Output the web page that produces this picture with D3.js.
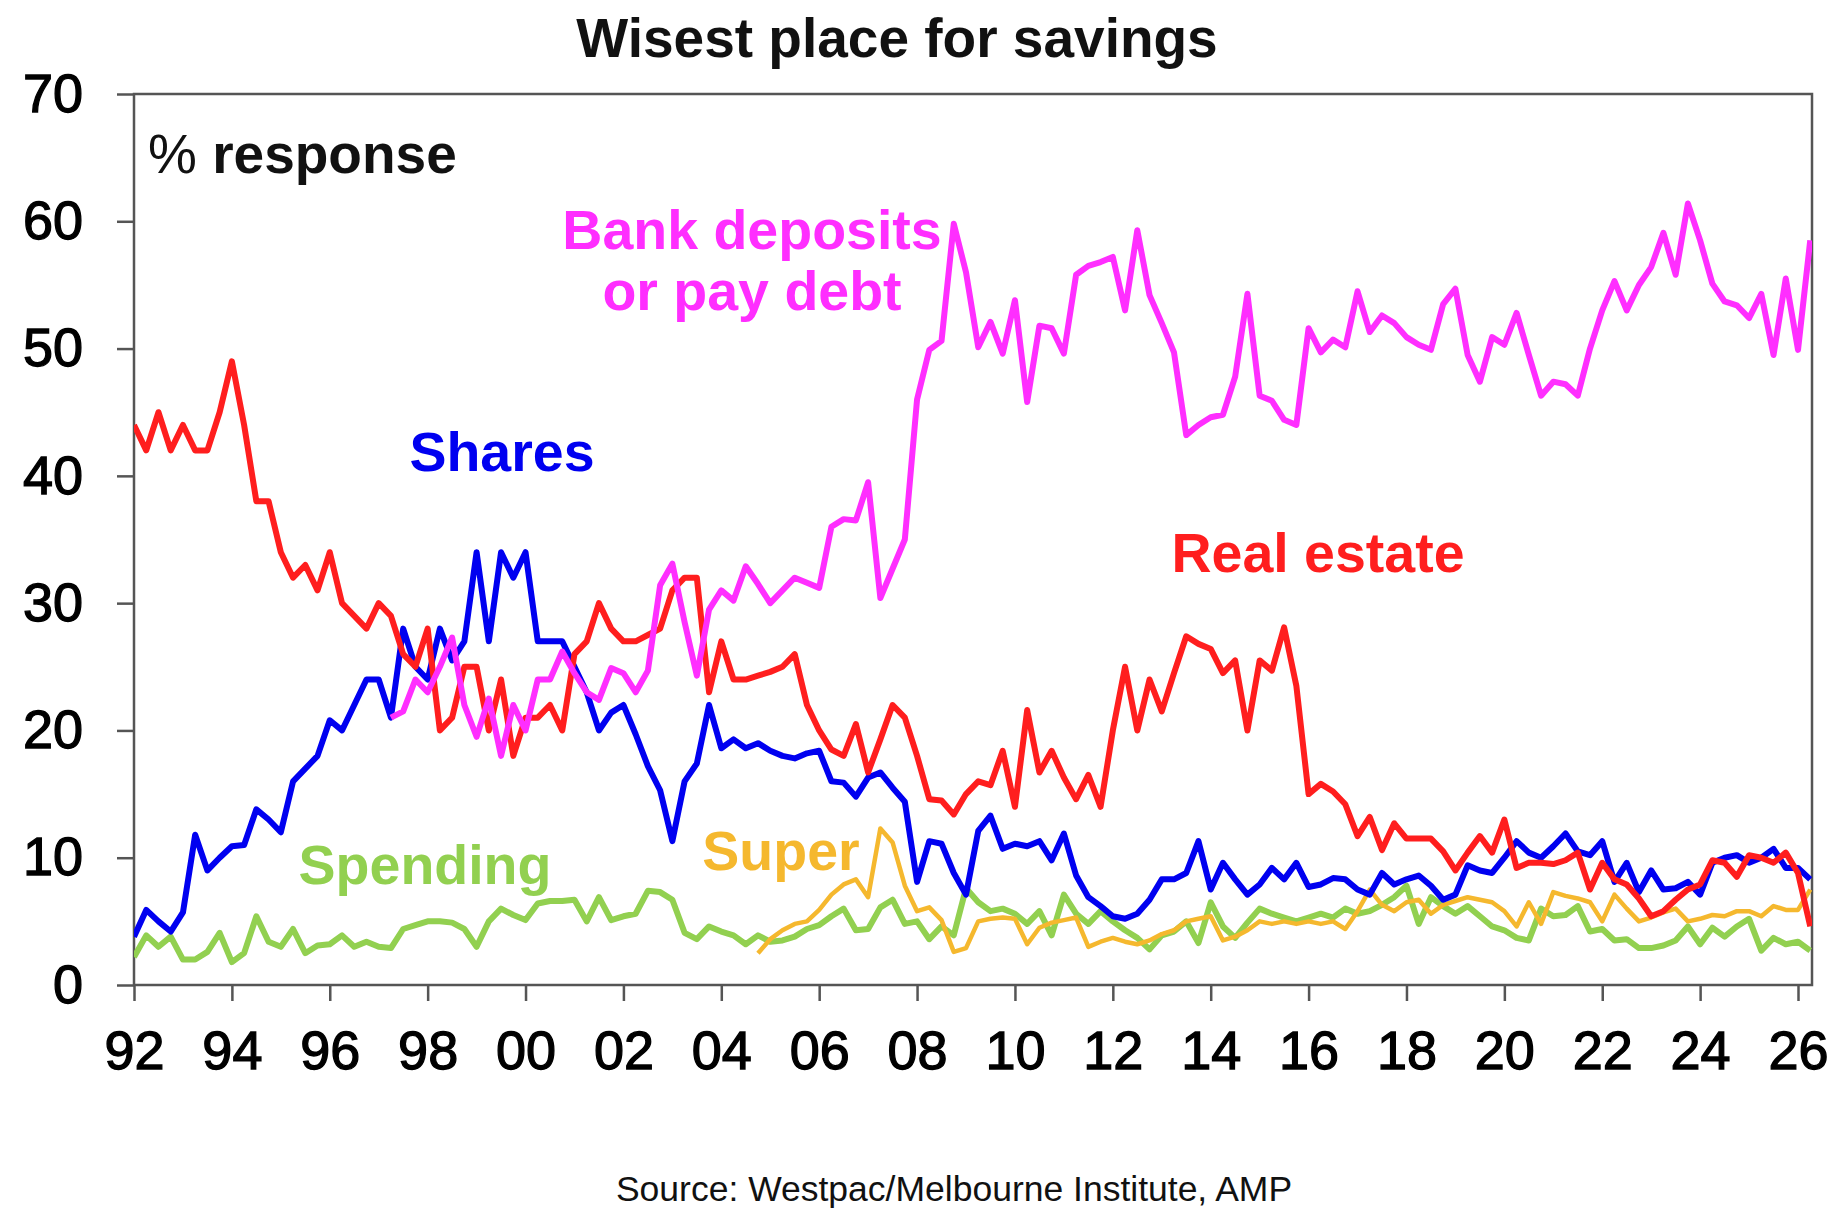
<!DOCTYPE html>
<html>
<head>
<meta charset="utf-8">
<script src="https://cdn.jsdelivr.net/npm/d3@7"></script>
<style>
  body { margin: 0; background: #fff; }
  text { font-family: "Liberation Sans", Arial, sans-serif; }
</style>
</head>
<body>
<div id="viz-container"></div>
<script>
// quarterly survey, first quarter = 1992
let firstYear = 1992;

// % response, one value per quarter
let realEstate = [44, 42, 45, 42, 44, 42, 42, 45, 49, 44,
  38, 38, 34, 32, 33, 31, 34, 30, 29, 28,
  30, 29, 26, 25, 28, 20, 21, 25, 25, 20,
  24, 18, 21, 21, 22, 20, 26, 27, 30, 28,
  27, 27, 27.5, 28, 31, 32, 32, 23, 27, 24,
  24, 24.3, 24.6, 25, 26, 22, 20, 18.5, 18, 20.5,
  16.7, 19.3, 22, 21, 18, 14.6, 14.5, 13.4, 15, 16,
  15.7, 18.4, 14, 21.6, 16.7, 18.4, 16.3, 14.6, 16.5, 14,
  20, 25, 20, 24, 21.5, 24.5, 27.4, 26.8, 26.4, 24.5,
  25.5, 20, 25.5, 24.7, 28.1, 23.5, 15, 15.8, 15.2, 14.2,
  11.7, 13.2, 10.6, 12.7, 11.5, 11.5, 11.5, 10.5, 9, 10.4,
  11.7, 10.4, 13, 9.2, 9.6, 9.6, 9.5, 9.8, 10.4, 7.5,
  9.6, 8.3, 7.9, 6.8, 5.4, 5.8, 6.7, 7.5, 7.9, 9.8,
  9.6, 8.5, 10.2, 10, 9.6, 10.4, 8.8, 4.6];

let shares = [3.8, 5.9, 5, 4.2, 5.7, 11.8, 9, 10, 10.9, 11,
  13.8, 13, 12, 16, 17, 18, 20.8, 20, 22, 24,
  24, 21, 28, 25, 24, 28, 25.5, 27, 34, 27,
  34, 32, 34, 27, 27, 27, 25, 23, 20, 21.4,
  22, 19.7, 17.2, 15.3, 11.3, 16, 17.4, 22, 18.6, 19.3,
  18.6, 19, 18.4, 18, 17.8, 18.2, 18.4, 16, 15.9, 14.8,
  16.3, 16.7, 15.5, 14.4, 8.1, 11.3, 11.1, 8.8, 7.1, 12.1,
  13.3, 10.7, 11.1, 10.9, 11.3, 9.8, 11.9, 8.6, 6.9, 6.2,
  5.4, 5.2, 5.6, 6.7, 8.3, 8.3, 8.8, 11.3, 7.5, 9.6,
  8.3, 7.1, 7.9, 9.2, 8.3, 9.6, 7.7, 7.9, 8.4, 8.3,
  7.5, 7.1, 8.8, 7.9, 8.3, 8.6, 7.8, 6.7, 7.1, 9.4,
  9, 8.8, 10, 11.3, 10.4, 10, 10.9, 11.9, 10.5, 10.2,
  11.3, 8.1, 9.6, 7.3, 9, 7.5, 7.6, 8.1, 7.1, 9.6,
  10, 10.2, 9.6, 10, 10.7, 9.2, 9.2, 8.3];

// bank deposits series begins at quarter 21
let bankStart = 21;
let bankDeposits = [21, 21.5, 24, 23, 25, 27.3, 22, 19.5, 22.5,
  18, 22, 20, 24, 24, 26.2, 24.5, 23, 22.4, 24.9,
  24.5, 23, 24.7, 31.4, 33.1, 28.5, 24.3, 29.5, 31, 30.2,
  32.9, 31.5, 30, 31, 32, 31.6, 31.2, 36, 36.6, 36.5,
  39.5, 30.4, 32.7, 35, 46, 49.9, 50.6, 59.8, 56, 50.1,
  52.1, 49.6, 53.8, 45.8, 51.8, 51.6, 49.6, 55.8, 56.5, 56.8,
  57.2, 53, 59.3, 54.2, 52, 49.7, 43.2, 44, 44.6, 44.8,
  47.8, 54.3, 46.3, 45.9, 44.4, 44, 51.6, 49.7, 50.7, 50.1,
  54.5, 51.3, 52.6, 52, 50.9, 50.3, 49.9, 53.5, 54.7, 49.5,
  47.4, 50.9, 50.3, 52.8, 49.5, 46.3, 47.4, 47.2, 46.3, 50,
  53, 55.3, 53, 55, 56.4, 59.1, 55.8, 61.4, 58.5, 55.1,
  53.7, 53.4, 52.4, 54.3, 49.5, 55.5, 49.9, 58.5];

let spending = [2.2, 3.9, 3, 3.8, 2, 2, 2.6, 4.1, 1.8, 2.5,
  5.4, 3.4, 3, 4.4, 2.5, 3.1, 3.2, 3.9, 3, 3.4,
  3, 2.9, 4.4, 4.7, 5, 5, 4.9, 4.4, 3, 5,
  6, 5.5, 5.1, 6.4, 6.6, 6.6, 6.7, 5, 6.9, 5.1,
  5.4, 5.6, 7.4, 7.3, 6.7, 4.1, 3.6, 4.6, 4.2, 3.9,
  3.2, 3.9, 3.4, 3.5, 3.8, 4.4, 4.7, 5.4, 6, 4.3,
  4.4, 6.1, 6.7, 4.8, 5, 3.6, 4.6, 3.9, 7.6, 6.5,
  5.8, 6, 5.6, 4.8, 5.8, 3.9, 7.1, 5.6, 4.8, 5.8,
  5, 4.3, 3.7, 2.8, 3.9, 4.2, 5, 3.3, 6.5, 4.6,
  3.7, 4.9, 6, 5.6, 5.3, 5, 5.3, 5.6, 5.3, 6,
  5.6, 5.8, 6.3, 6.9, 7.8, 4.8, 6.9, 6.2, 5.6, 6.2,
  5.4, 4.6, 4.3, 3.7, 3.5, 6, 5.4, 5.5, 6.2, 4.2,
  4.4, 3.5, 3.6, 2.9, 2.9, 3.1, 3.5, 4.6, 3.2, 4.5,
  3.8, 4.6, 5.2, 2.7, 3.7, 3.2, 3.4, 2.7];

// super series begins at quarter 51
let superStart = 51;
let superannuation = [2.5, 3.6, 4.3, 4.8, 5, 5.9, 7.1, 7.9, 8.3,
  6.9, 12.3, 11.2, 7.8, 5.8, 6.1, 5.1, 2.6, 2.9, 5,
  5.2, 5.3, 5.2, 3.2, 4.5, 4.9, 5.1, 5.3, 3, 3.4,
  3.7, 3.4, 3.2, 3.5, 4, 4.3, 5, 5.2, 5.4, 3.5,
  3.8, 4.3, 5, 4.8, 5, 4.8, 5, 4.8, 5, 4.4,
  5.8, 7.5, 6.3, 5.8, 6.5, 6.7, 5.6, 6.3, 6.6, 6.9,
  6.7, 6.5, 5.8, 4.6, 6.5, 4.8, 7.3, 7, 6.8, 6.5,
  5, 7.1, 6, 5, 5.3, 5.7, 6, 5, 5.2, 5.5,
  5.4, 5.8, 5.8, 5.4, 6.2, 5.9, 5.9, 7.5];

let yTicks = [0, 10, 20, 30, 40, 50, 60, 70];
let xTicks = d3.range(1992, 2027, 2);

let series = [
  {name: "Spending", values: spending, start: 0, color: "#92d050", width: 6},
  {name: "Super", values: superannuation, start: superStart, color: "#f5b82e", width: 4.5},
  {name: "Shares", values: shares, start: 0, color: "#0000f0", width: 6},
  {name: "Real estate", values: realEstate, start: 0, color: "#ff1e1e", width: 6},
  {name: "Bank deposits", values: bankDeposits, start: bankStart, color: "#ff2eff", width: 6}
];

let viz = d3.select("#viz-container")
  .append("svg")
    .attr("width", 1832)
    .attr("height", 1216)
    .style("background", "#fff");

let plotLeft = 134, plotRight = 1812, plotTop = 94, plotBottom = 985;

let x = d3.scaleLinear().domain([1992, 2026]).range([plotLeft, 1798]);
let y = d3.scaleLinear().domain([0, 70]).range([plotBottom, plotTop]);

viz.append("clipPath").attr("id", "plotclip")
  .append("rect")
    .attr("x", plotLeft).attr("y", plotTop - 10)
    .attr("width", plotRight - plotLeft).attr("height", plotBottom - plotTop + 10);

// title
viz.append("text")
  .text("Wisest place for savings")
  .attr("x", 897)
  .attr("y", 57)
  .attr("text-anchor", "middle")
  .attr("font-size", 55)
  .attr("font-weight", "bold")
  .attr("fill", "#111");

// axes
let yAxis = viz.append("g")
  .attr("transform", "translate(" + plotLeft + ",0)")
  .call(d3.axisLeft(y).tickValues(yTicks).tickSize(17).tickSizeOuter(0).tickPadding(34));

let xAxis = viz.append("g")
  .attr("transform", "translate(0," + plotBottom + ")")
  .call(d3.axisBottom(x).tickValues(xTicks).tickSize(16).tickSizeOuter(0).tickPadding(30)
    .tickFormat(d => String(d % 100).padStart(2, "0")));

[yAxis, xAxis].forEach(function(g){
  g.select(".domain").remove();
  g.selectAll("line").attr("stroke", "#555").attr("stroke-width", 2.5);
  g.selectAll("text")
    .attr("font-size", 54)
    .attr("fill", "#000")
    .attr("stroke", "#000")
    .attr("stroke-width", 1.3);
});

// plot frame
viz.append("rect")
  .attr("x", plotLeft).attr("y", plotTop)
  .attr("width", plotRight - plotLeft).attr("height", plotBottom - plotTop)
  .attr("fill", "none")
  .attr("stroke", "#555")
  .attr("stroke-width", 2.5);

// lines
let line = d3.line()
  .x(d => x(d.year))
  .y(d => y(d.value));

function points(s){
  return s.values.map(function(v, i){
    return {year: firstYear + (s.start + i) / 4, value: v};
  });
}

viz.append("g").attr("clip-path", "url(#plotclip)")
  .selectAll("path").data(series).enter()
  .append("path")
    .attr("d", s => line(points(s)))
    .attr("fill", "none")
    .attr("stroke", s => s.color)
    .attr("stroke-width", s => s.width)
    .attr("stroke-linejoin", "round");

// "% response" note: percent sign is regular weight
let note = viz.append("text")
  .attr("x", 148)
  .attr("y", 173)
  .attr("font-size", 55)
  .attr("fill", "#111");
note.append("tspan").text("%");
note.append("tspan").text(" response").attr("font-weight", "bold");

// series labels
let labels = [
  {text: "Bank deposits", x: 752, y: 249, color: "#ff2eff"},
  {text: "or pay debt", x: 752, y: 310, color: "#ff2eff"},
  {text: "Shares", x: 502, y: 471, color: "#0000f0"},
  {text: "Real estate", x: 1318, y: 572, color: "#ff1e1e"},
  {text: "Spending", x: 425, y: 884, color: "#92d050"},
  {text: "Super", x: 781, y: 870, color: "#f5b82e"}
];

viz.selectAll(".label").data(labels).enter()
  .append("text")
    .attr("class", "label")
    .text(d => d.text)
    .attr("x", d => d.x)
    .attr("y", d => d.y)
    .attr("text-anchor", "middle")
    .attr("font-size", 55.5)
    .attr("font-weight", "bold")
    .attr("fill", d => d.color);

// source
viz.append("text")
  .text("Source: Westpac/Melbourne Institute, AMP")
  .attr("x", 954)
  .attr("y", 1201)
  .attr("text-anchor", "middle")
  .attr("font-size", 35.5)
  .attr("fill", "#111");
</script>
</body>
</html>
